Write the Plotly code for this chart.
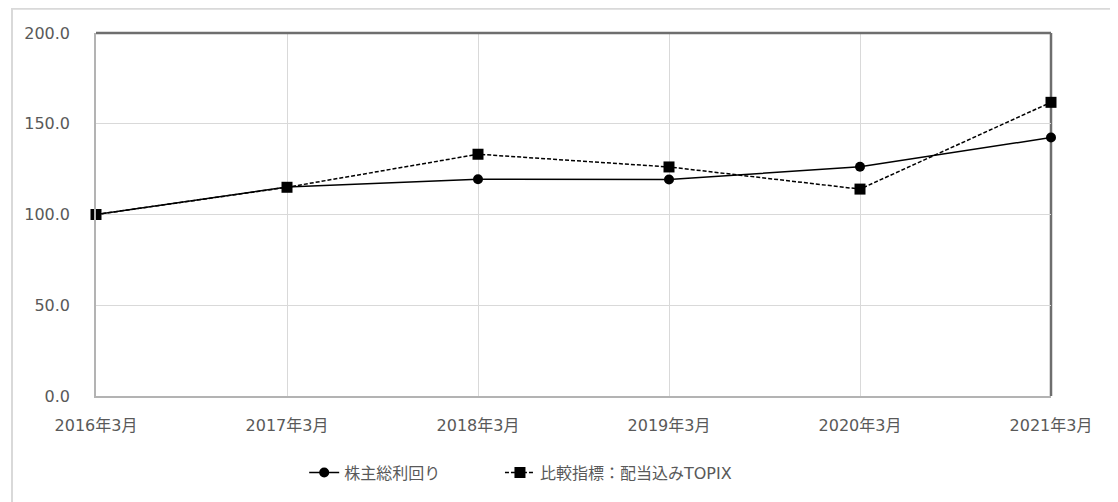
import plotly.graph_objects as go

categories = ["2016年3月", "2017年3月", "2018年3月", "2019年3月", "2020年3月", "2021年3月"]
tsr_values = [100.0, 115.2, 119.4, 119.3, 126.3, 142.4]
topix_values = [100.0, 115.0, 133.2, 126.2, 114.0, 161.8]
series_names = ["株主総利回り", "比較指標：配当込みTOPIX"]
y_ticks = [0, 50, 100, 150, 200]
y_ticklabels = ["0.0", "50.0", "100.0", "150.0", "200.0"]

FONT = "DejaVu Sans, Noto Sans CJK JP, sans-serif"
GRAY_TEXT = "#595959"

fig = go.Figure()
fig.add_trace(go.Scatter(
    x=categories, y=tsr_values, name=series_names[0], mode="lines+markers",
    line=dict(color="#000000", width=1.5),
    marker=dict(symbol="circle", size=10, color="#000000"),
    cliponaxis=False, legend="legend",
))
fig.add_trace(go.Scatter(
    x=categories, y=topix_values, name=series_names[1], mode="lines+markers",
    line=dict(color="#000000", width=1.5, dash="4px,2px"),
    marker=dict(symbol="square", size=11, color="#000000"),
    cliponaxis=False, legend="legend2",
))

legend_common = dict(orientation="h", y=-0.211, yanchor="middle", xanchor="left",
                     font=dict(family=FONT, size=16, color=GRAY_TEXT),
                     bgcolor="rgba(0,0,0,0)")

fig.update_layout(
    width=1110, height=494,
    margin=dict(l=88, r=67, t=25, b=104),
    paper_bgcolor="white", plot_bgcolor="white",
    font=dict(family=FONT, size=16, color=GRAY_TEXT),
    showlegend=True,
    legend=dict(x=0.218, **legend_common),
    legend2=dict(x=0.423, **legend_common),
    xaxis=dict(
        type="category", range=[0, 5], showgrid=True, gridcolor="#d9d9d9", gridwidth=1,
        showline=True, linecolor="#b3b3b3", linewidth=1.5, mirror=False,
        ticks="", tickfont=dict(family=FONT, size=16, color=GRAY_TEXT), ticklabelstandoff=14,
        zeroline=False, fixedrange=True,
    ),
    yaxis=dict(
        range=[0, 200], tickvals=y_ticks, ticktext=y_ticklabels,
        showgrid=True, gridcolor="#d9d9d9", gridwidth=1,
        showline=True, linecolor="#b3b3b3", linewidth=1.5, mirror=False,
        ticks="", tickfont=dict(family=FONT, size=16, color=GRAY_TEXT), ticklabelstandoff=21,
        zeroline=False, fixedrange=True,
    ),
    shapes=[
        # dark top and right frame lines of the plot area
        dict(type="line", xref="paper", yref="paper", x0=0, x1=1, y0=1, y1=1,
             line=dict(color="#6e6e6e", width=2.5), layer="above"),
        dict(type="line", xref="paper", yref="paper", x0=1, x1=1, y0=0, y1=1,
             line=dict(color="#6e6e6e", width=2.5), layer="below"),
        # outer chart border
        dict(type="rect", xref="paper", yref="paper",
             x0=-84/955, x1=1.2, y0=1 + 24.5/365, y1=-0.5,
             line=dict(color="#d9d9d9", width=2), layer="below"),
    ],
)

fig.write_html("out.html")
